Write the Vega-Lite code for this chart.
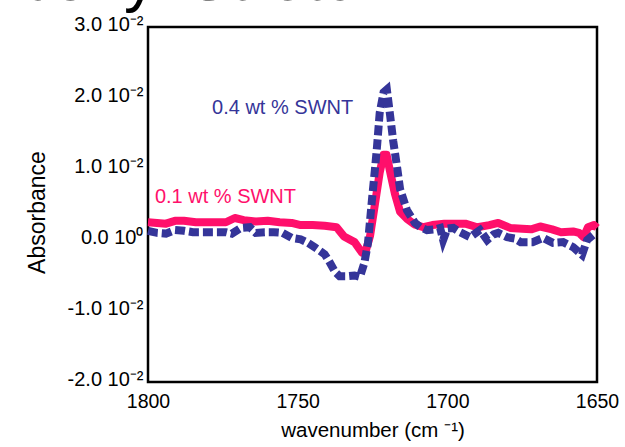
{
  "$schema": "https://vega.github.io/schema/vega-lite/v6.json",
  "width": 449,
  "height": 355,
  "autosize": "none",
  "padding": {"left": 148, "top": 27, "right": 28, "bottom": 65},
  "background": "white",
  "config": {
    "view": {"stroke": "black", "strokeWidth": 2.5},
    "font": "Liberation Sans",
    "axis": {"domain": false, "grid": false, "ticks": false, "tickSize": 0, "labelColor": "black", "titleColor": "black", "labelFont": "Liberation Sans", "titleFont": "Liberation Sans", "titleFontWeight": "normal", "labelOverlap": false, "labelBound": false, "labelFlush": false}
  },
  "title": {"text": "Carbonyl Stretch", "fontSize": 64, "font": "Liberation Sans", "fontWeight": "normal", "color": "black", "anchor": "start", "frame": "group", "dx": -234, "baseline": "alphabetic", "offset": -50},
  "datasets": {
    "red": [
      {"wn": 1800, "v": 0.0025}, {"wn": 1797, "v": 0.0024}, {"wn": 1794, "v": 0.0023}, {"wn": 1791, "v": 0.0027}, {"wn": 1788, "v": 0.0027}, {"wn": 1784, "v": 0.0025}, {"wn": 1779, "v": 0.0025}, {"wn": 1774, "v": 0.0025}, {"wn": 1771, "v": 0.0031}, {"wn": 1768, "v": 0.0028}, {"wn": 1764, "v": 0.0026}, {"wn": 1760, "v": 0.0027}, {"wn": 1756, "v": 0.0025}, {"wn": 1752, "v": 0.0024}, {"wn": 1749, "v": 0.0021}, {"wn": 1745, "v": 0.0021}, {"wn": 1741, "v": 0.0020}, {"wn": 1737, "v": 0.0018}, {"wn": 1734.5, "v": 0.0005}, {"wn": 1731, "v": -0.0003}, {"wn": 1728.5, "v": -0.0018}, {"wn": 1727.3, "v": -0.0016}, {"wn": 1725.8, "v": 0.0006}, {"wn": 1724.2, "v": 0.0050}, {"wn": 1722.6, "v": 0.0095}, {"wn": 1721.3, "v": 0.0120}, {"wn": 1720.3, "v": 0.0120}, {"wn": 1718.8, "v": 0.0090}, {"wn": 1717.5, "v": 0.0065}, {"wn": 1715.8, "v": 0.0040}, {"wn": 1713.5, "v": 0.0030}, {"wn": 1711, "v": 0.0022}, {"wn": 1708, "v": 0.0018}, {"wn": 1705, "v": 0.0021}, {"wn": 1701, "v": 0.0023}, {"wn": 1697, "v": 0.0023}, {"wn": 1694, "v": 0.0023}, {"wn": 1690, "v": 0.0018}, {"wn": 1686, "v": 0.0021}, {"wn": 1683, "v": 0.0024}, {"wn": 1679, "v": 0.0017}, {"wn": 1675, "v": 0.0016}, {"wn": 1672, "v": 0.0015}, {"wn": 1669, "v": 0.0019}, {"wn": 1665, "v": 0.0015}, {"wn": 1662, "v": 0.0011}, {"wn": 1658, "v": 0.0012}, {"wn": 1656, "v": 0.0010}, {"wn": 1654.5, "v": 0.0004}, {"wn": 1653, "v": 0.0018}, {"wn": 1651, "v": 0.0021}, {"wn": 1650, "v": 0.0017}
    ],
    "blue": [
      {"wn": 1800, "v": 0.0013}, {"wn": 1797, "v": 0.0010}, {"wn": 1794, "v": 0.0009}, {"wn": 1791, "v": 0.0014}, {"wn": 1788, "v": 0.0013}, {"wn": 1785, "v": 0.0011}, {"wn": 1781, "v": 0.0011}, {"wn": 1777, "v": 0.0011}, {"wn": 1774, "v": 0.0011}, {"wn": 1772, "v": 0.0009}, {"wn": 1769, "v": 0.0017}, {"wn": 1766, "v": 0.0018}, {"wn": 1764, "v": 0.0010}, {"wn": 1761, "v": 0.0011}, {"wn": 1758, "v": 0.0011}, {"wn": 1755, "v": 0.0010}, {"wn": 1752, "v": 0.0003}, {"wn": 1749, "v": 0.0001}, {"wn": 1747, "v": -0.0003}, {"wn": 1744, "v": -0.0011}, {"wn": 1741, "v": -0.0020}, {"wn": 1739.5, "v": -0.0030}, {"wn": 1737.5, "v": -0.0045}, {"wn": 1736, "v": -0.0051}, {"wn": 1733.5, "v": -0.0051}, {"wn": 1731, "v": -0.0050}, {"wn": 1729.2, "v": -0.0052}, {"wn": 1727.7, "v": -0.0032}, {"wn": 1726.5, "v": -0.0004}, {"wn": 1725.2, "v": 0.0056}, {"wn": 1724.2, "v": 0.0099}, {"wn": 1723.5, "v": 0.0131}, {"wn": 1722.6, "v": 0.0179}, {"wn": 1721.3, "v": 0.0208}, {"wn": 1720.2, "v": 0.0212}, {"wn": 1719.1, "v": 0.0175}, {"wn": 1718.1, "v": 0.0140}, {"wn": 1716.8, "v": 0.0103}, {"wn": 1715.8, "v": 0.0072}, {"wn": 1713.5, "v": 0.0042}, {"wn": 1710.8, "v": 0.0024}, {"wn": 1709, "v": 0.0018}, {"wn": 1706.8, "v": 0.0014}, {"wn": 1704, "v": 0.0015}, {"wn": 1702.4, "v": 0.0017}, {"wn": 1701.4, "v": 0.0000}, {"wn": 1700, "v": 0.0016}, {"wn": 1698, "v": 0.0017}, {"wn": 1695.8, "v": 0.0011}, {"wn": 1692.4, "v": 0.0004}, {"wn": 1689.1, "v": 0.0014}, {"wn": 1686.7, "v": 0.0000}, {"wn": 1684.5, "v": 0.0008}, {"wn": 1683, "v": 0.0010}, {"wn": 1680, "v": 0.0004}, {"wn": 1677.5, "v": 0.0002}, {"wn": 1675.5, "v": -0.0003}, {"wn": 1671.5, "v": -0.0003}, {"wn": 1668, "v": 0.0003}, {"wn": 1664.7, "v": -0.0004}, {"wn": 1661.3, "v": -0.0003}, {"wn": 1658, "v": -0.0010}, {"wn": 1655, "v": -0.0021}, {"wn": 1653.3, "v": 0.0000}, {"wn": 1651.3, "v": 0.0007}, {"wn": 1650, "v": 0.0008}
    ],
    "xmaj": [{"wn": 1800}, {"wn": 1750}, {"wn": 1700}, {"wn": 1650}],
    "xmin": [{"wn": 1795}, {"wn": 1790}, {"wn": 1785}, {"wn": 1780}, {"wn": 1775}, {"wn": 1770}, {"wn": 1765}, {"wn": 1760}, {"wn": 1755}, {"wn": 1745}, {"wn": 1740}, {"wn": 1735}, {"wn": 1730}, {"wn": 1725}, {"wn": 1720}, {"wn": 1715}, {"wn": 1710}, {"wn": 1705}, {"wn": 1695}, {"wn": 1690}, {"wn": 1685}, {"wn": 1680}, {"wn": 1675}, {"wn": 1670}, {"wn": 1665}, {"wn": 1660}, {"wn": 1655}],
    "ymaj": [{"v": -0.02}, {"v": -0.01}, {"v": 0}, {"v": 0.01}, {"v": 0.02}, {"v": 0.03}],
    "ymin": [{"v": -0.018}, {"v": -0.016}, {"v": -0.014}, {"v": -0.012}, {"v": -0.008}, {"v": -0.006}, {"v": -0.004}, {"v": -0.002}, {"v": 0.002}, {"v": 0.004}, {"v": 0.006}, {"v": 0.008}, {"v": 0.012}, {"v": 0.014}, {"v": 0.016}, {"v": 0.018}, {"v": 0.022}, {"v": 0.024}, {"v": 0.026}, {"v": 0.028}],
    "lab04": [{"wn": 1778.6, "v": 0.0186, "label": "0.4 wt % SWNT"}],
    "lab01": [{"wn": 1797.7, "v": 0.0061, "label": "0.1 wt % SWNT"}]
  },
  "encoding": {
    "x": {"field": "wn", "type": "quantitative", "scale": {"domain": [1650, 1800], "reverse": true, "nice": false, "zero": false},
      "axis": {"orient": "bottom", "values": [1800, 1750, 1700, 1650], "labelExpr": "format(datum.value, 'd')", "labelFontSize": 19.5, "labelPadding": 10,
        "title": "wavenumber (cm ⁻¹)", "titleFontSize": 20.5, "titleX": 224.5, "titleY": 54, "titleBaseline": "alphabetic", "titleAlign": "center"}},
    "y": {"field": "v", "type": "quantitative", "scale": {"domain": [-0.02, 0.03], "nice": false, "zero": false},
      "axis": {"orient": "left", "values": [-0.02, -0.01, 0, 0.01, 0.02, 0.03],
        "labelExpr": "abs(datum.value) < 0.0001 ? '0.0 10⁰' : (datum.value < 0 ? '-' : '') + format(abs(datum.value*100), '.1f') + ' 10⁻²'",
        "labelFontSize": 20, "labelPadding": 5, "labelOffset": -3,
        "title": "Absorbance", "titleFontSize": 23, "titleX": -104, "titleY": 185, "titleBaseline": "alphabetic", "titleAlign": "center", "titleAngle": -90}}
  },
  "layer": [
    {"data": {"name": "red"}, "mark": {"type": "line", "color": "#ff0f6b", "strokeWidth": 8, "strokeJoin": "round", "strokeCap": "butt"}},
    {"data": {"name": "blue"}, "mark": {"type": "line", "color": "#353599", "strokeWidth": 8, "strokeDash": [10, 4], "strokeCap": "butt", "strokeJoin": "miter"}},
    {"data": {"name": "lab04"}, "mark": {"type": "text", "color": "#353599", "fontSize": 20, "font": "Liberation Sans", "align": "left", "baseline": "middle"}, "encoding": {"text": {"field": "label"}}},
    {"data": {"name": "lab01"}, "mark": {"type": "text", "color": "#ff0f6b", "fontSize": 20, "font": "Liberation Sans", "align": "left", "baseline": "middle"}, "encoding": {"text": {"field": "label"}}},
    {"data": {"name": "xmaj"}, "mark": {"type": "rule", "color": "black", "strokeWidth": 1.5}, "encoding": {"y": {"datum": -0.02, "type": "quantitative"}, "y2": {"datum": -0.01887}}},
    {"data": {"name": "xmaj"}, "mark": {"type": "rule", "color": "black", "strokeWidth": 1.5}, "encoding": {"y": {"datum": 0.03, "type": "quantitative"}, "y2": {"datum": 0.02887}}},
    {"data": {"name": "xmin"}, "mark": {"type": "rule", "color": "black", "strokeWidth": 1.5}, "encoding": {"y": {"datum": -0.02, "type": "quantitative"}, "y2": {"datum": -0.01944}}},
    {"data": {"name": "xmin"}, "mark": {"type": "rule", "color": "black", "strokeWidth": 1.5}, "encoding": {"y": {"datum": 0.03, "type": "quantitative"}, "y2": {"datum": 0.02944}}},
    {"data": {"name": "ymaj"}, "mark": {"type": "rule", "color": "black", "strokeWidth": 1.5}, "encoding": {"x": {"datum": 1800, "type": "quantitative"}, "x2": {"datum": 1797.33}}},
    {"data": {"name": "ymaj"}, "mark": {"type": "rule", "color": "black", "strokeWidth": 1.5}, "encoding": {"x": {"datum": 1650, "type": "quantitative"}, "x2": {"datum": 1652.67}}},
    {"data": {"name": "ymin"}, "mark": {"type": "rule", "color": "black", "strokeWidth": 1.5}, "encoding": {"x": {"datum": 1800, "type": "quantitative"}, "x2": {"datum": 1798.66}}},
    {"data": {"name": "ymin"}, "mark": {"type": "rule", "color": "black", "strokeWidth": 1.5}, "encoding": {"x": {"datum": 1650, "type": "quantitative"}, "x2": {"datum": 1651.34}}}
  ]
}
